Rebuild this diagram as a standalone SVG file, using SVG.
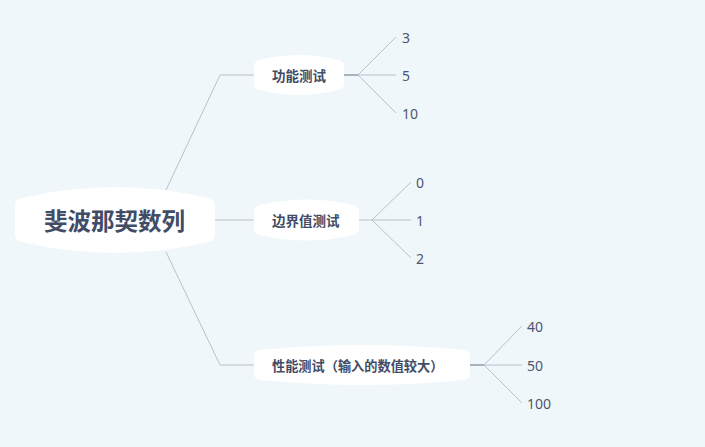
<svg xmlns="http://www.w3.org/2000/svg" width="705" height="447" viewBox="0 0 705 447">
<style>
.bg{fill:#eff7fa}
.node{fill:#ffffff}
.ln{fill:none;stroke:#b9c1cc;stroke-width:1}
.stem{fill:none;stroke:#a9b2bf;stroke-width:2}
.t{font-family:"Noto Sans CJK SC","Noto Sans",sans-serif;font-weight:bold;fill:#414c66;dominant-baseline:central}
.leaf{font-family:"Noto Sans","Open Sans",sans-serif;font-size:14px;fill:#4d5670;dominant-baseline:central}
</style>
<rect class="bg" width="705" height="447"/>
<g id="connectors">
<path class="ln" d="M166,190 L220,75 L254,75"/>
<path class="ln" d="M215,220 L254,220"/>
<path class="ln" d="M166,252 L220,365 L254,365"/>
<path class="stem" d="M344,75 L358,75"/>
<path class="ln" d="M358,75 L396,37 M358,75 L396,75 M358,75 L396,113"/>
<path class="ln" d="M359,220 L372,220"/>
<path class="ln" d="M372,220 L411,182 M372,220 L411,220 M372,220 L411,258"/>
<path class="stem" d="M470,365 L484,365"/>
<path class="ln" d="M484,365 L522,326 M484,365 L522,365 M484,365 L522,403"/>
</g>
<g id="root">
<path class="node" d="M22,198 Q115,176 208,198 Q215,199 215,206 L215,234 Q215,241 208,242 Q115,264 22,242 Q15,241 15,234 L15,206 Q15,199 22,198 Z"/>
<text class="t" x="44" y="220" font-size="23.5" textLength="141" lengthAdjust="spacingAndGlyphs">斐波那契数列</text>
</g>
<g id="n1">
<path class="node" d="M260,60 Q299,50 338,60 Q344,61 344,66 L344,84 Q344,89 338,90 Q299,100 260,90 Q254,89 254,84 L254,66 Q254,61 260,60 Z"/>
<text class="t" x="272" y="75" font-size="13.5">功能测试</text>
</g>
<g id="n2">
<path class="node" d="M260,205 Q306.5,194 353,205 Q359,206 359,211 L359,229 Q359,234 353,235 Q306.5,246 260,235 Q254,234 254,229 L254,211 Q254,206 260,205 Z"/>
<text class="t" x="272" y="220" font-size="13.5">边界值测试</text>
</g>
<g id="n3">
<path class="node" d="M260,350 Q362,340 464,350 Q470,351 470,356 L470,374 Q470,379 464,380 Q362,390 260,380 Q254,379 254,374 L254,356 Q254,351 260,350 Z"/>
<text class="t" x="272" y="365" font-size="13.2">性能测试（输入的数值较大）</text>
</g>
<g id="leaves">
<text class="leaf" x="402" y="37">3</text>
<text class="leaf" x="402" y="75">5</text>
<text class="leaf" x="402" y="113">10</text>
<text class="leaf" x="416" y="182">0</text>
<text class="leaf" x="416" y="220">1</text>
<text class="leaf" x="416" y="258">2</text>
<text class="leaf" x="527" y="326">40</text>
<text class="leaf" x="527" y="365">50</text>
<text class="leaf" x="527" y="403">100</text>
</g>
</svg>
